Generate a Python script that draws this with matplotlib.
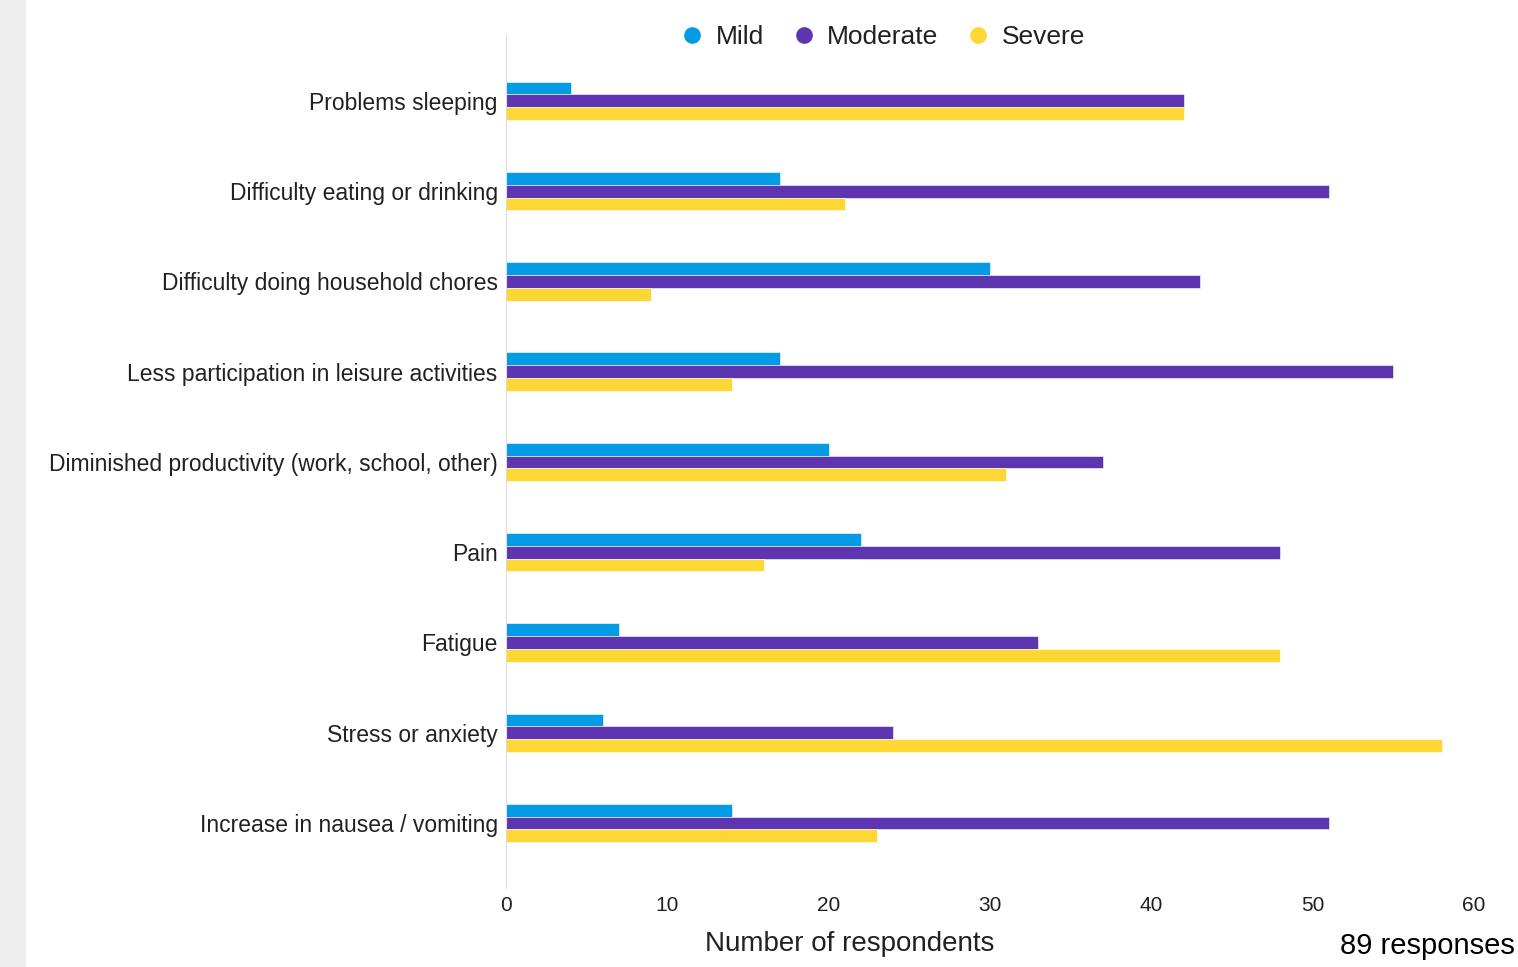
import numpy as np
import matplotlib.pyplot as plt
from matplotlib.lines import Line2D
from matplotlib.patches import Rectangle

plt.rcParams['font.family'] = ['Liberation Sans', 'DejaVu Sans']

categories = ["Problems sleeping", "Difficulty eating or drinking",
              "Difficulty doing household chores",
              "Less participation in leisure activities",
              "Diminished productivity (work, school, other)",
              "Pain", "Fatigue", "Stress or anxiety",
              "Increase in nausea / vomiting"]
mild = [4, 17, 30, 17, 20, 22, 7, 6, 14]
moderate = [42, 51, 43, 55, 37, 48, 33, 24, 51]
severe = [42, 21, 9, 14, 31, 16, 48, 58, 23]
series_names = ["Mild", "Moderate", "Severe"]
colors = ["#039be5", "#5e35b1", "#fdd835"]

fig = plt.figure(figsize=(15.18, 9.67), dpi=100)
fig.patches.append(Rectangle((0, 0), 25 / 1518, 1, transform=fig.transFigure,
                             color="#eeeeee", zorder=0))

ax = fig.add_axes([506 / 1518, 1 - 888 / 967, (1474 - 506) / 1518, (888 - 35) / 967])

y = np.arange(len(categories))
h = 0.142
for i, (vals, c) in enumerate(zip([mild, moderate, severe], colors)):
    ax.barh(y + (i - 1) * h, vals, height=h, color=c, edgecolor="white",
            linewidth=0.4, zorder=2)

ax.set_xlim(0, 60)
ax.set_ylim(8.72, -0.73)
ax.set_yticks(y)
ax.set_yticklabels(categories, fontsize=16.5, color="#212121")
ax.set_xticks(np.arange(0, 61, 10))
ax.tick_params(axis="x", labelsize=15, colors="#212121", length=0, pad=6)
ax.tick_params(axis="y", length=0, pad=6)
for s in ["top", "right", "bottom"]:
    ax.spines[s].set_visible(False)
ax.spines["left"].set_color("#dddddd")
ax.set_xlabel("Number of respondents", fontsize=20, color="#212121")
ax.xaxis.set_label_coords((850 - 506) / 968, -0.05)

handles = [Line2D([], [], marker="o", linestyle="none", markersize=11,
                  markerfacecolor=c, markeredgecolor=c) for c in colors]
fig.legend(handles, series_names, loc="center", ncol=3, frameon=False,
           bbox_to_anchor=(882 / 1518, 1 - 37 / 967), fontsize=19,
           handlelength=1.0, handletextpad=0.4, columnspacing=1.0,
           labelcolor="#212121")

fig.text(1515 / 1518, 1 - 960 / 967, "89 responses", ha="right", va="bottom",
         fontsize=21, color="black")

fig.savefig("out.png", dpi=100)
